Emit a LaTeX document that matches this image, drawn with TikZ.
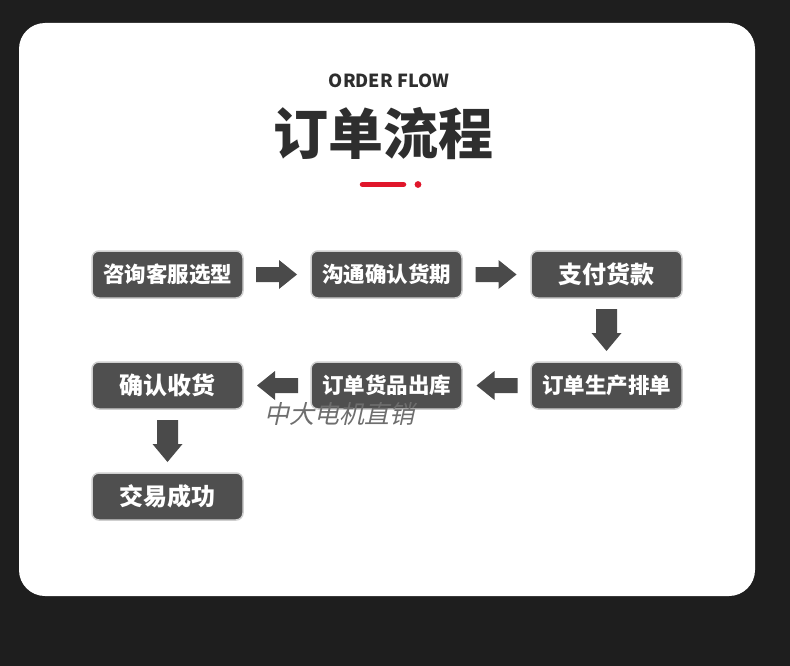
\documentclass[tikz,border=0pt]{standalone}
\usepackage{fontspec}
\newfontfamily\cjk{Noto Sans CJK SC}
\newfontfamily\cjkit{Noto Sans CJK SC}[FakeSlant=0.22]
\definecolor{bgdark}{HTML}{1E1E1E}
\definecolor{boxfill}{HTML}{4F4F4F}
\definecolor{boxline}{HTML}{CFCFCF}
\definecolor{arrowc}{HTML}{4A4A4A}
\definecolor{titlec}{HTML}{2E2E2E}
\definecolor{redc}{HTML}{E0162B}
\definecolor{wmark}{HTML}{6E6E6E}
\tikzset{
  stepbox/.style={draw=boxline, line width=1.5pt, fill=boxfill, rounded corners=7pt,
    minimum width=151pt, minimum height=47pt, inner sep=0pt, text=white,
    font=\cjk\bfseries\fontsize{21.5}{24}\selectfont},
  bigtext/.style={font=\cjk\bfseries\fontsize{24}{27}\selectfont}
}
% horizontal block arrow, pointing +x (rotate 180 for left)
\newcommand\harrow[2]{%
  \begin{scope}[shift={(#1)}, rotate=#2]
    \fill[arrowc] (-21,-7.5) -- (2,-7.5) -- (2,-14.5) -- (20,0) -- (2,14.5) -- (2,7.5) -- (-21,7.5) -- cycle;
  \end{scope}}
% downward block arrow
\newcommand\varrow[1]{%
  \begin{scope}[shift={(#1)}]
    \fill[arrowc] (-10.5,-21) -- (10.5,-21) -- (10.5,3) -- (15,3) -- (0,21) -- (-15,3) -- (-10.5,3) -- cycle;
  \end{scope}}
\begin{document}
\begin{tikzpicture}[x=1pt,y=-1pt]
\useasboundingbox (0,0) rectangle (790,666);
\fill[bgdark] (0,0) rectangle (790,666);
\fill[white, rounded corners=26pt] (19,23) rectangle (755,596);

\node[font=\cjk\bfseries\fontsize{18}{20}\selectfont, text=titlec] (sub) at (389,81) {ORDER FLOW};
\node[font=\cjk\bfseries\fontsize{55}{60}\selectfont, text=titlec] (title) at (383,134) {订单流程};
\coordinate (r1) at (362.5,184.5);
\coordinate (r2) at (403.5,184.5);
\draw[redc, line width=5.5pt, line cap=round] (r1) -- (r2);
\fill[redc] (418,184.5) circle (3.4);

\node[stepbox] (b1) at (167.5,274.5) {咨询客服选型};
\node[stepbox] (b2) at (386.5,274.5) {沟通确认货期};
\node[stepbox, bigtext] (b3) at (606.5,274.5) {支付货款};
\node[stepbox] (b6) at (606.5,385.5) {订单生产排单};
\node[stepbox] (b5) at (386.5,385.5) {订单货品出库};
\node[stepbox, bigtext] (b4) at (167.5,385.5) {确认收货};
\node[stepbox, bigtext] (b7) at (167.5,496.5) {交易成功};

\path (b1.east) -- (b2.west) coordinate[pos=0.5] (m12);
\path (b2.east) -- (b3.west) coordinate[pos=0.5] (m23);
\path (b3.south) -- (b6.north) coordinate[pos=0.5] (m36);
\path (b6.west) -- (b5.east) coordinate[pos=0.5] (m65);
\path (b5.west) -- (b4.east) coordinate[pos=0.5] (m54);
\path (b4.south) -- (b7.north) coordinate[pos=0.5] (m47);
\harrow{m12}{0}
\harrow{m23}{0}
\varrow{m36}
\harrow{m65}{180}
\harrow{m54}{180}
\varrow{m47}

\node[font=\cjkit\fontsize{25}{27}\selectfont, text=wmark] (wm) at (339,414) {中大电机直销};
\end{tikzpicture}
\end{document}
